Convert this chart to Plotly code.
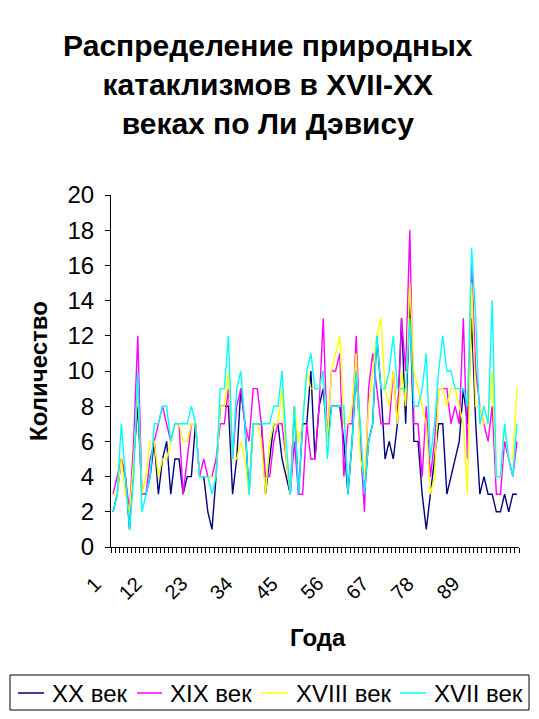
import plotly.graph_objects as go

years = list(range(1, 100))

xx_century = [2, 3, 5, 4, 1, 5, 8, 3, 3, 4,
              6, 3, 5, 6, 3, 5, 5, 3, 4, 4,
              7, 4, 4, 2, 1, 4, 8, 8, 8, 3,
              5, 9, 7, 3, 7, 7, 7, 3, 5, 7,
              7, 5, 4, 3, 8, 3, 7, 7, 10, 5,
              8, 9, 6, 8, 8, 8, 6, 3, 6, 10,
              6, 3, 6, 7, 12, 9, 5, 6, 5, 7,
              13, 7, 14, 6, 6, 3, 1, 3, 5, 7,
              7, 3, 4, 5, 6, 9, 7, 13, 7, 3,
              4, 3, 3, 2, 2, 3, 2, 3, 3]

xix_century = [3, 4, 5, 4, 2, 6, 12, 3, 3, 5,
               6, 7, 8, 7, 6, 7, 7, 3, 5, 7,
               7, 4, 5, 4, 4, 5, 7, 7, 9, 5,
               8, 9, 7, 6, 9, 9, 7, 4, 4, 6,
               7, 7, 5, 3, 6, 3, 3, 7, 5, 5,
               8, 13, 6, 10, 10, 11, 4, 7, 7, 12,
               6, 2, 9, 11, 9, 7, 7, 7, 10, 7,
               13, 10, 18, 7, 7, 4, 8, 4, 6, 9,
               9, 9, 7, 8, 7, 13, 5, 16, 10, 8,
               7, 6, 8, 3, 3, 6, 5, 4, 6]

xviii_century = [3, 3, 5, 3, 2, 5, 9, 3, 4, 6,
                 6, 4, 5, 5, 6, 7, 7, 6, 6, 7,
                 7, 4, 4, 4, 4, 4, 8, 8, 10, 5,
                 5, 6, 5, 3, 7, 7, 6, 3, 6, 7,
                 7, 9, 5, 3, 8, 6, 7, 10, 9, 9,
                 9, 10, 6, 10, 11, 12, 7, 7, 8, 11,
                 5, 4, 8, 10, 12, 13, 9, 8, 10, 7,
                 10, 8, 15, 10, 9, 8, 7, 3, 4, 9,
                 9, 8, 9, 9, 8, 7, 3, 15, 8, 8,
                 7, 7, 10, 4, 4, 7, 5, 5, 9]

xvii_century = [2, 3, 7, 4, 1, 4, 10, 2, 3, 4,
                7, 7, 8, 8, 6, 7, 7, 7, 7, 8,
                7, 4, 4, 4, 3, 4, 9, 9, 12, 5,
                9, 10, 7, 3, 7, 7, 7, 7, 7, 8,
                8, 10, 6, 3, 8, 3, 7, 10, 11, 9,
                9, 10, 5, 8, 8, 8, 8, 3, 6, 10,
                7, 3, 6, 7, 12, 9, 9, 10, 12, 9,
                9, 9, 13, 8, 8, 9, 11, 5, 7, 10,
                12, 10, 10, 9, 9, 9, 8, 17, 13, 7,
                8, 7, 14, 4, 4, 7, 5, 4, 7]

series_names = ["XX век", "XIX век", "XVIII век", "XVII век"]
series_colors = ["#000080", "#FF00FF", "#FFFF00", "#00FFFF"]
series_values = [xx_century, xix_century, xviii_century, xvii_century]

tick_vals = [1, 12, 23, 34, 45, 56, 67, 78, 89]
tick_text = [str(v) for v in tick_vals]

FONT = "Liberation Sans, Arial, sans-serif"

# The page body has an 8 px margin; size the figure so it fits the window.
OFF = 8
W, H = 539 - 2 * OFF, 719 - 2 * OFF
# plot area in page pixels: x 111..519, y 195..547
P_LEFT, P_RIGHT, P_TOP, P_BOTTOM = 111, 519, 195, 547
ML = P_LEFT - OFF
MR = W - (P_RIGHT - OFF)
MT = P_TOP - OFF
MB = H - (P_BOTTOM - OFF)
PW, PH = W - ML - MR, H - MT - MB
N = len(years)


def px_x(px):
    """page x pixel -> paper fraction"""
    return (px - OFF - ML) / PW


def px_y(py):
    """page y pixel -> paper fraction"""
    return (H - MB - (py - OFF)) / PH


fig = go.Figure()
for name, vals, color in zip(series_names, series_values, series_colors):
    fig.add_trace(go.Scatter(x=years, y=vals, mode="lines", name=name,
                             line=dict(color=color, width=1.4)))

shapes = []
annotations = []

# manual legend (box, line samples, labels)
shapes.append(dict(type="rect", xref="paper", yref="paper",
                   x0=px_x(10), x1=px_x(529), y0=px_y(710), y1=px_y(675),
                   line=dict(color="black", width=1), fillcolor="white",
                   layer="above"))
legend_line_x = [(18, 44), (137, 162), (262, 288), (400, 426)]
legend_text_x = [50, 168, 294, 432]
for (a, b), tx, name, color in zip(legend_line_x, legend_text_x,
                                   series_names, series_colors):
    shapes.append(dict(type="line", xref="paper", yref="paper",
                       x0=px_x(a), x1=px_x(b), y0=px_y(693), y1=px_y(693),
                       line=dict(color=color, width=1.5)))
    annotations.append(dict(text=name, xref="paper", yref="paper",
                            x=px_x(tx), y=px_y(693), xanchor="left",
                            yanchor="middle", showarrow=False,
                            font=dict(size=24, family=FONT, color="black")))

# rotated category labels, placed like the original (below-left of category)
for v, t in zip(tick_vals, tick_text):
    dx = -20 if len(t) == 1 else -28
    cy = 585 if len(t) == 1 else 588
    frac = (v - 0.5) / N            # category centre as paper fraction
    annotations.append(dict(text=t, xref="paper", yref="paper",
                            x=frac + dx / PW, y=px_y(cy),
                            xanchor="center", yanchor="middle",
                            textangle=-45, showarrow=False,
                            font=dict(size=20, family=FONT, color="black")))

annotations.append(dict(text="<b>Количество</b>", xref="paper", yref="paper",
                        x=px_x(38), y=0.5, xanchor="center", yanchor="middle",
                        textangle=-90, showarrow=False,
                        font=dict(size=24, family=FONT, color="black")))
annotations.append(dict(text="<b>Года</b>", xref="paper", yref="paper",
                        x=px_x(318), y=px_y(637), xanchor="center",
                        yanchor="middle", showarrow=False,
                        font=dict(size=24, family=FONT, color="black")))

fig.update_layout(
    width=W, height=H,
    margin=dict(l=ML, r=MR, t=MT, b=MB, autoexpand=False),
    paper_bgcolor="white", plot_bgcolor="white",
    font=dict(family=FONT, color="black"),
    title=dict(text="<b>Распределение природных<br>катаклизмов в XVII-XX<br>веках по Ли Дэвису</b>",
               x=259.8 / W, xref="container", xanchor="center",
               y=1 - 48.2 / H, yref="container", yanchor="top",
               font=dict(size=30, family=FONT, color="black")),
    showlegend=False,
    xaxis=dict(range=[0.5, N + 0.5], tickmode="array", tickvals=tick_vals,
               showticklabels=False, ticks="",
               showline=True, linecolor="black", linewidth=1,
               showgrid=False, zeroline=False,
               minor=dict(tickmode="linear", tick0=0.5, dtick=1,
                          ticks="outside", ticklen=5, tickcolor="black",
                          showgrid=False)),
    yaxis=dict(range=[0, 20], dtick=2, tick0=0, ticks="outside", ticklen=5,
               tickcolor="black", showline=True, linecolor="black",
               linewidth=1, showgrid=False, zeroline=False,
               ticklabelstandoff=6,
               tickfont=dict(size=24, family=FONT, color="black")),
    shapes=shapes,
    annotations=annotations,
)

fig.write_html("out.html")
